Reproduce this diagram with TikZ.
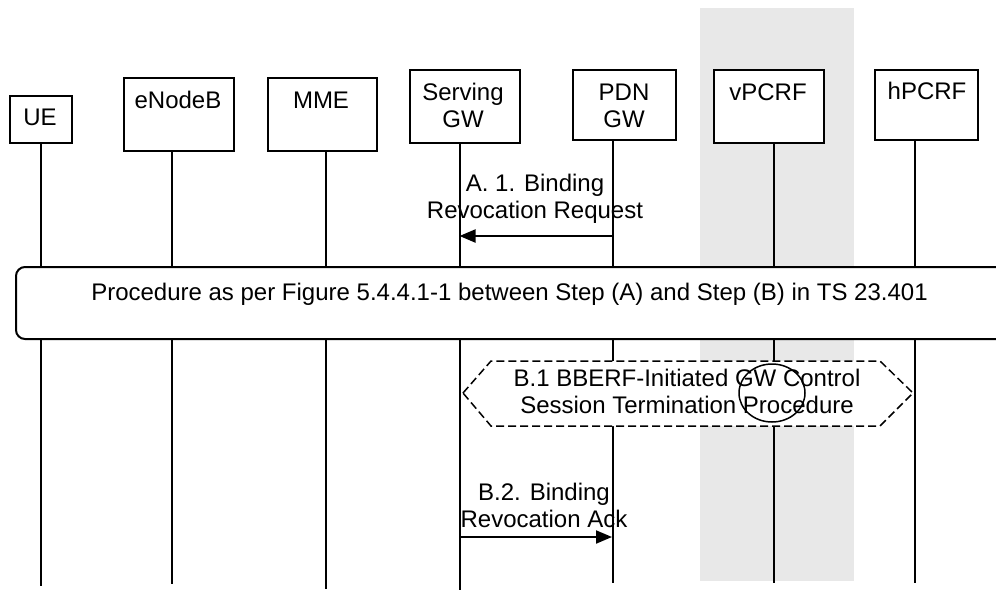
\documentclass[tikz,border=0pt]{standalone}
\usepackage{fontspec}
\setmainfont{Liberation Sans}
\usetikzlibrary{arrows.meta}
\definecolor{shadegray}{HTML}{E8E8E8}
\begin{document}
\begin{tikzpicture}[x=0.5pt,y=-0.5pt,
  lbl/.style={font=\fontsize{12}{13.5}\selectfont, inner sep=0pt, align=center},
  ebox/.style={draw, line width=1pt, fill=white, inner sep=0pt, anchor=north west},
  life/.style={line width=1pt},
  msg/.style={line width=1pt, -{Triangle[length=8pt,width=6.5pt]}},
  hexa/.style={dash pattern=on 4pt off 2pt, line width=0.75pt, fill=white},
]
\useasboundingbox (0,0) rectangle (996,590);
\clip (0,0) rectangle (996,590);
% shaded column
\fill[shadegray] (700,8) rectangle (854,581);
% header boxes
\node[ebox, minimum width=31pt, minimum height=23.5pt] (ue) at (9,95) {};
\node[ebox, minimum width=55pt, minimum height=36.5pt] (enb) at (123,77) {};
\node[ebox, minimum width=54.5pt, minimum height=36.5pt] (mme) at (267,77) {};
\node[ebox, minimum width=55pt, minimum height=36.5pt] (sgw) at (409,69) {};
\node[ebox, minimum width=51.5pt, minimum height=35pt] (pdn) at (572,69) {};
\node[ebox, minimum width=55pt, minimum height=36.5pt] (vpcrf) at (713,69) {};
\node[ebox, minimum width=51.5pt, minimum height=35pt] (hpcrf) at (874,69) {};
% lifeline ends
\coordinate (ueE) at (40.5,586);
\coordinate (enbE) at (172,584);
\coordinate (mmeE) at (326,589);
\coordinate (sgwE) at (459.5,590);
\coordinate (pdnE) at (613,583);
\coordinate (vpcrfE) at (774,583);
\coordinate (hpcrfE) at (915,583);
\draw[life] (ue.south -| ueE) -- (ueE);
\draw[life] (enb.south -| enbE) -- (enbE);
\draw[life] (mme.south -| mmeE) -- (mmeE);
\draw[life] (sgw.south -| sgwE) -- (sgwE);
\draw[life] (pdn.south -| pdnE) -- (pdnE);
\draw[life] (vpcrf.south -| vpcrfE) -- (vpcrfE);
\draw[life] (hpcrf.south -| hpcrfE) -- (hpcrfE);
% box labels (anchor base = last line's baseline)
\node[lbl, anchor=base] (uet) at (40,125) {UE};
\node[lbl, anchor=base] (enbt) at (178,108) {eNodeB};
\node[lbl, anchor=base] (mmet) at (321,108) {MME};
\node[lbl, anchor=base] (sgwt) at (463,127) {Serving\\GW};
\node[lbl, anchor=base] (pdnt) at (624,127) {PDN\\GW};
\node[lbl, anchor=base] (vpcrft) at (768,100) {vPCRF};
\node[lbl, anchor=base] (hpcrft) at (927,99) {hPCRF};
% A.1 message
\coordinate (a1s) at (613,236);
\coordinate (a1e) at (459.5,236);
\draw[msg] (a1s) -- (a1e);
\node[lbl, anchor=base] (a1t) at (535,218) {A. 1. Binding\\Revocation Request};
% procedure box
\node[ebox, rounded corners=4.5pt, minimum width=495pt, minimum height=36pt] (proc) at (15,266) {};
\node[lbl, anchor=base] (proct) at (509.5,300) {Procedure as per Figure 5.4.4.1-1 between Step (A) and Step (B) in TS 23.401};
% B.1 hexagon
\draw[hexa] (463,393) -- (491,361) -- (880,361) -- (913,393) -- (880,426) -- (491,426) -- cycle;
\node[lbl, anchor=base] (b1t) at (687,413) {B.1 BBERF-Initiated GW Control\\Session Termination Procedure};
\draw[line width=0.75pt] (772,393) ellipse [x radius=16.5pt, y radius=14.5pt];
% B.2 message
\coordinate (b2s) at (459.5,537);
\coordinate (b2e) at (612,537);
\draw[msg] (b2s) -- (b2e);
\node[lbl, anchor=base] (b2t) at (544,527) {B.2. Binding\\Revocation Ack};
\end{tikzpicture}
\end{document}
